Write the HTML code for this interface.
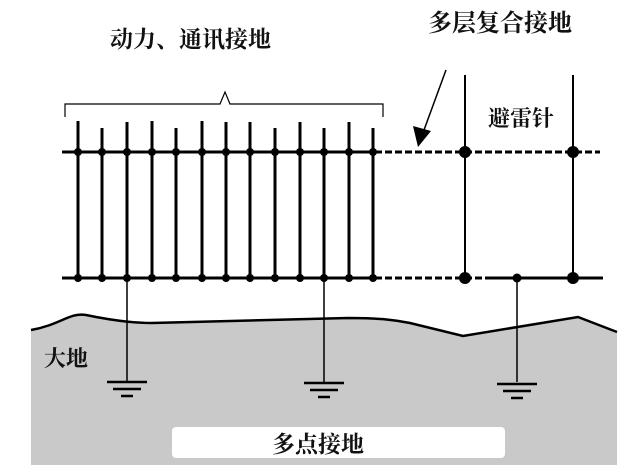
<!DOCTYPE html><html><head><meta charset="utf-8"><style>body{margin:0;background:#fff}svg{display:block}text{font-family:"Liberation Serif","Noto Serif CJK SC",serif;font-weight:bold;fill:#111}</style></head><body>
<svg width="640" height="473" viewBox="0 0 640 473">
<path d="M31,330 C60,325 70,312 86,315 C110,320 130,323 152,323 L348,318 C380,318 395,320 410,323 L463,336 L578,317 L617,332 L617,465 L31,465 Z" fill="#c9c9c9" stroke="none"/>
<path d="M31,330 C60,325 70,312 86,315 C110,320 130,323 152,323 L348,318 C380,318 395,320 410,323 L463,336 L578,317 L617,332" fill="none" stroke="#000" stroke-width="2.5"/>
<rect x="172" y="427" width="333" height="31" rx="4" fill="#fff"/>
<text x="318" y="452" font-size="23" text-anchor="middle">多点接地</text>
<text x="44" y="366" font-size="22">大地</text>
<text x="110" y="47" font-size="23">动力、通讯接地</text>
<text x="428" y="31" font-size="24">多层复合接地</text>
<text x="488" y="126" font-size="22">避雷针</text>
<path d="M65,117 V104 H220 L225,92 L230,104 H383 V117" fill="none" stroke="#000" stroke-width="1.2"/>
<g stroke="#000" stroke-width="3">
<line x1="62" y1="152" x2="375" y2="152"/><line x1="62" y1="278" x2="375" y2="278"/>
<line x1="375" y1="152" x2="600" y2="152" stroke-dasharray="7,3"/>
<line x1="375" y1="278" x2="485" y2="278" stroke-dasharray="7,3"/>
<line x1="485" y1="278" x2="603" y2="278"/>
<line x1="465" y1="75" x2="465" y2="278" stroke-width="2"/>
<line x1="573" y1="75" x2="573" y2="278" stroke-width="2"/>
</g>
<g stroke="#000" stroke-width="3" fill="#000">
<line x1="78" y1="121" x2="78" y2="278"/><line x1="102" y1="128" x2="102" y2="278"/><line x1="127" y1="122" x2="127" y2="278"/><line x1="152" y1="121" x2="152" y2="278"/><line x1="176" y1="128" x2="176" y2="278"/><line x1="202" y1="121" x2="202" y2="278"/><line x1="226" y1="122" x2="226" y2="278"/><line x1="250" y1="122" x2="250" y2="278"/><line x1="275" y1="128" x2="275" y2="278"/><line x1="300" y1="122" x2="300" y2="278"/><line x1="324" y1="128" x2="324" y2="278"/><line x1="349" y1="122" x2="349" y2="278"/><line x1="373" y1="128" x2="373" y2="278"/>
</g>
<g fill="#000">
<circle cx="78" cy="152" r="4"/><circle cx="102" cy="152" r="4"/><circle cx="127" cy="152" r="4"/><circle cx="152" cy="152" r="4"/><circle cx="176" cy="152" r="4"/><circle cx="202" cy="152" r="4"/><circle cx="226" cy="152" r="4"/><circle cx="250" cy="152" r="4"/><circle cx="275" cy="152" r="4"/><circle cx="300" cy="152" r="4"/><circle cx="324" cy="152" r="4"/><circle cx="349" cy="152" r="4"/><circle cx="373" cy="152" r="4"/>
<circle cx="78" cy="278" r="4"/><circle cx="102" cy="278" r="4"/><circle cx="127" cy="278" r="4"/><circle cx="152" cy="278" r="4"/><circle cx="176" cy="278" r="4"/><circle cx="202" cy="278" r="4"/><circle cx="226" cy="278" r="4"/><circle cx="250" cy="278" r="4"/><circle cx="275" cy="278" r="4"/><circle cx="300" cy="278" r="4"/><circle cx="324" cy="278" r="4"/><circle cx="349" cy="278" r="4"/><circle cx="373" cy="278" r="4"/>
<circle cx="465" cy="152" r="6"/><circle cx="573" cy="152" r="6"/><circle cx="465" cy="278" r="6"/><circle cx="573" cy="278" r="6"/><circle cx="517" cy="278" r="4.5"/>
</g>
<line x1="446" y1="70" x2="424" y2="130" stroke="#000" stroke-width="1.5"/>
<polygon points="418,147 413,126 431,131" fill="#000"/>
<g stroke="#000" fill="none">
<line x1="127" y1="278" x2="127" y2="382" stroke-width="1.5"/><line x1="324" y1="278" x2="324" y2="382" stroke-width="1.5"/><line x1="517" y1="278" x2="517" y2="382" stroke-width="1.5"/>
<g stroke-width="2.5">
<line x1="107" y1="382" x2="147" y2="382"/><line x1="113" y1="389" x2="141" y2="389"/><line x1="121" y1="396" x2="133" y2="396"/>
<line x1="304" y1="383" x2="344" y2="383"/><line x1="310" y1="390" x2="338" y2="390"/><line x1="318" y1="397" x2="330" y2="397"/>
<line x1="497" y1="384" x2="537" y2="384"/><line x1="503" y1="391" x2="531" y2="391"/><line x1="511" y1="398" x2="523" y2="398"/>
</g></g>
</svg></body></html>
